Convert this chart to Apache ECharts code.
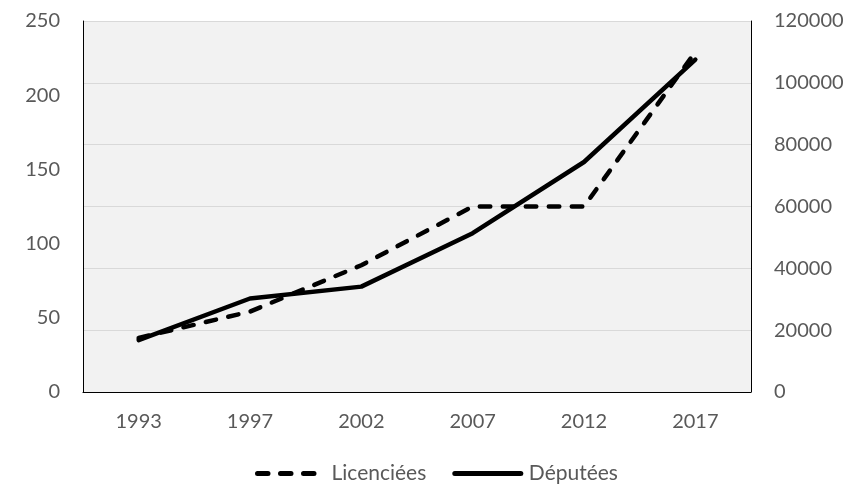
<!DOCTYPE html>
<html>
<head>
<meta charset="utf-8">
<script src="https://cdn.jsdelivr.net/npm/echarts@6/dist/echarts.min.js"></script>
<style>
html,body{margin:0;padding:0;background:#fff;}
#chart{width:854px;height:485px;}
</style>
</head>
<body>
<div id="chart"></div>
<script>
var years = ['1993', '1997', '2002', '2007', '2012', '2017'];
var licenciees = [17500, 26000, 41000, 60000, 60000, 110000];
var deputees = [35, 63, 71, 107, 155, 224];

var FONT = 'Lato';
var TXT = '#595959';

var chart = echarts.init(document.getElementById('chart'), null, {renderer: 'canvas'});
chart.setOption({
  animation: false,
  backgroundColor: '#ffffff',
  textStyle: {fontFamily: FONT},
  grid: {
    left: 83, right: 103, top: 21, bottom: 93,
    show: true, backgroundColor: '#f2f2f2', borderWidth: 0
  },
  legend: {
    left: 250, top: 458,
    itemWidth: 66, itemHeight: 14, itemGap: 26,
    itemStyle: {opacity: 0},
    lineStyle: {width: 5, cap: 'round'},
    textStyle: {fontFamily: FONT, fontSize: 21, lineHeight: 21, color: TXT, padding: [0, 0, 0, 3]},
    data: ['Licenciées', 'Députées']
  },
  xAxis: [{
    type: 'category',
    data: years,
    boundaryGap: true,
    axisLine: {show: true, lineStyle: {color: '#d9d9d9', width: 1}},
    axisTick: {show: false},
    axisLabel: {fontFamily: FONT, fontSize: 20, color: TXT, margin: 20},
    splitLine: {show: false}
  }, {
    type: 'category',
    data: years,
    position: 'top',
    axisLine: {show: true, lineStyle: {color: '#000', width: 1}},
    axisTick: {show: false},
    axisLabel: {show: false},
    splitLine: {show: false}
  }],
  yAxis: [{
    type: 'value',
    min: 0, max: 250, interval: 50,
    position: 'left',
    axisLine: {show: true, lineStyle: {color: '#000', width: 1}},
    axisTick: {show: false},
    axisLabel: {fontFamily: FONT, fontSize: 20, color: TXT, margin: 23},
    splitLine: {show: false}
  }, {
    type: 'value',
    min: 0, max: 120000, interval: 20000,
    position: 'right',
    axisLine: {show: true, lineStyle: {color: '#000', width: 1}},
    axisTick: {show: false},
    axisLabel: {fontFamily: FONT, fontSize: 20, color: TXT, margin: 23,
      formatter: function (v) { return String(v); }},
    splitLine: {show: true, lineStyle: {color: '#d9d9d9', width: 1}}
  }],
  series: [{
    name: 'Licenciées',
    type: 'line',
    yAxisIndex: 1,
    data: licenciees,
    symbol: 'none',
    showSymbol: false,
    color: '#000',
    lineStyle: {color: '#000', width: 4.5, type: [10.5, 12.5], cap: 'round', join: 'round'}
  }, {
    name: 'Députées',
    type: 'line',
    yAxisIndex: 0,
    data: deputees,
    symbol: 'none',
    showSymbol: false,
    color: '#000',
    lineStyle: {color: '#000', width: 4.5, type: 'solid', cap: 'round', join: 'round'}
  }]
});
</script>
</body>
</html>
